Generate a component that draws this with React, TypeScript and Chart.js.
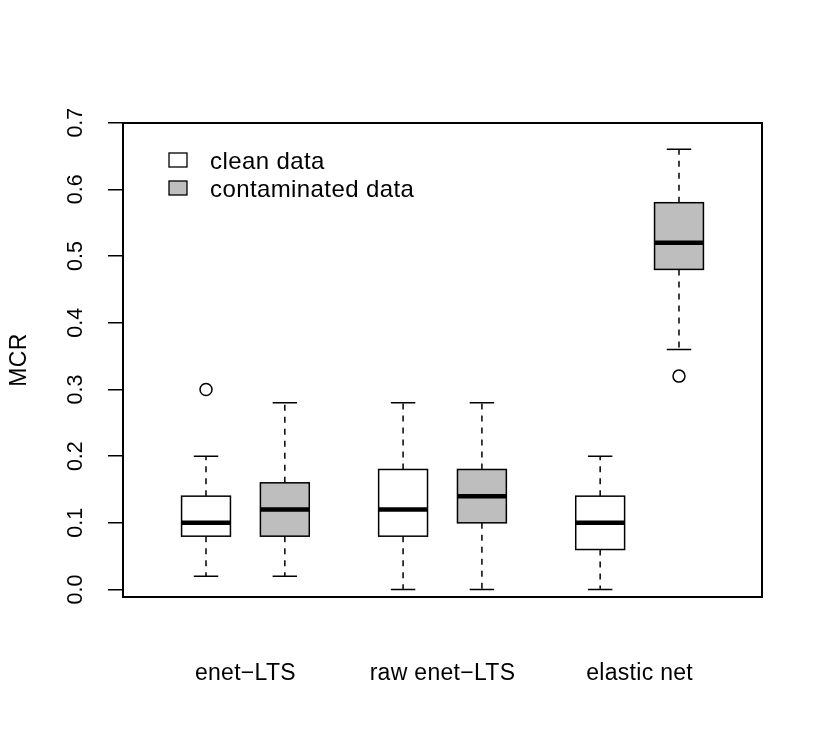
import React, { useEffect, useRef } from "react";
import { Chart, registerables } from "chart.js";

Chart.register(...registerables);

// Methods compared, one pair of boxes per method
const groupLabels = ["enet\u2212LTS", "raw enet\u2212LTS", "elastic net"];
// Data conditions (legend entries) and their box fills
const seriesLabels = ["clean data", "contaminated data"];
const seriesFill = ["#ffffff", "#bebebe"];

// One entry per box: x position, condition, five-number summary
const boxPositions = [1, 2, 3.5, 4.5, 6, 7];
const boxSeries = [0, 1, 0, 1, 0, 1];
const whiskerLow = [0.02, 0.02, 0.0, 0.0, 0.0, 0.36];
const lowerQuartile = [0.08, 0.08, 0.08, 0.1, 0.06, 0.48];
const medians = [0.1, 0.12, 0.12, 0.14, 0.1, 0.52];
const upperQuartile = [0.14, 0.16, 0.18, 0.18, 0.14, 0.58];
const whiskerHigh = [0.2, 0.28, 0.28, 0.28, 0.2, 0.66];

// Outlying points: x position and MCR value
const outlierX = [1, 7];
const outlierY = [0.3, 0.32];

const yTicks = [0, 0.1, 0.2, 0.3, 0.4, 0.5, 0.6, 0.7];
const yTitle = "MCR";

const FONT = '"Liberation Sans", Arial, Helvetica, sans-serif';
const BOX_HALF = 0.31;
const CAP_HALF = 0.155;

const boxplotPlugin = {
  id: "boxplotPlugin",
  beforeDatasetsDraw(chart: any) {
    const { ctx, scales } = chart;
    const xs = scales.x;
    const ys = scales.y;
    ctx.save();
    for (let i = 0; i < boxPositions.length; i++) {
      const p = boxPositions[i];
      const xc = xs.getPixelForValue(p);
      const xl = xs.getPixelForValue(p - BOX_HALF);
      const xr = xs.getPixelForValue(p + BOX_HALF);
      const cl = xs.getPixelForValue(p - CAP_HALF);
      const cr = xs.getPixelForValue(p + CAP_HALF);
      const yLo = ys.getPixelForValue(whiskerLow[i]);
      const yQ1 = ys.getPixelForValue(lowerQuartile[i]);
      const yMed = ys.getPixelForValue(medians[i]);
      const yQ3 = ys.getPixelForValue(upperQuartile[i]);
      const yHi = ys.getPixelForValue(whiskerHigh[i]);

      ctx.strokeStyle = "#000";
      ctx.lineWidth = 1.5;

      // dashed whiskers
      ctx.setLineDash([6, 6]);
      ctx.beginPath();
      ctx.moveTo(xc, yQ1);
      ctx.lineTo(xc, yLo);
      ctx.moveTo(xc, yQ3);
      ctx.lineTo(xc, yHi);
      ctx.stroke();
      ctx.setLineDash([]);

      // whisker caps
      ctx.beginPath();
      ctx.moveTo(cl, yLo);
      ctx.lineTo(cr, yLo);
      ctx.moveTo(cl, yHi);
      ctx.lineTo(cr, yHi);
      ctx.stroke();

      // box
      ctx.fillStyle = seriesFill[boxSeries[i]];
      ctx.fillRect(xl, yQ3, xr - xl, yQ1 - yQ3);
      ctx.strokeRect(xl, yQ3, xr - xl, yQ1 - yQ3);

      // median
      ctx.lineWidth = 4.5;
      ctx.beginPath();
      ctx.moveTo(xl, yMed);
      ctx.lineTo(xr, yMed);
      ctx.stroke();
    }
    ctx.restore();
  },
  afterDraw(chart: any) {
    const { ctx, scales, chartArea } = chart;
    const xs = scales.x;
    const ys = scales.y;
    ctx.save();

    // plot frame
    ctx.strokeStyle = "#000";
    ctx.lineWidth = 2;
    ctx.strokeRect(
      chartArea.left,
      chartArea.top,
      chartArea.right - chartArea.left,
      chartArea.bottom - chartArea.top
    );

    ctx.fillStyle = "#000";

    // rotated y tick labels
    ctx.font = `21.5px ${FONT}`;
    ctx.textAlign = "center";
    ctx.textBaseline = "middle";
    for (const t of ys.ticks) {
      const y = ys.getPixelForValue(t.value);
      ctx.save();
      ctx.translate(76, y);
      ctx.rotate(-Math.PI / 2);
      ctx.fillText(t.value.toFixed(1), 0, 0);
      ctx.restore();
    }

    // y axis title
    ctx.font = `23px ${FONT}`;
    (ctx as any).letterSpacing = "0.3px";
    ctx.save();
    ctx.translate(20, 360);
    ctx.rotate(-Math.PI / 2);
    ctx.fillText(yTitle, 0, 0);
    ctx.restore();

    // method labels under each pair of boxes
    ctx.textBaseline = "alphabetic";
    for (let g = 0; g < groupLabels.length; g++) {
      const mid = (boxPositions[2 * g] + boxPositions[2 * g + 1]) / 2;
      ctx.fillText(groupLabels[g], xs.getPixelForValue(mid), 680);
    }

    // legend
    ctx.font = `24px ${FONT}`;
    (ctx as any).letterSpacing = "0.4px";
    ctx.textAlign = "left";
    const legendX = chartArea.left + 46;
    const legendTop = chartArea.top + 30;
    for (let k = 0; k < seriesLabels.length; k++) {
      const y = legendTop + k * 28;
      ctx.fillStyle = seriesFill[k];
      ctx.fillRect(legendX, y, 18, 14);
      ctx.strokeStyle = "#000";
      ctx.lineWidth = 1.3;
      ctx.strokeRect(legendX, y, 18, 14);
      ctx.fillStyle = "#000";
      ctx.fillText(seriesLabels[k], legendX + 41, y + 16);
    }
    (ctx as any).letterSpacing = "0px";
    ctx.restore();
  },
};

export default function App() {
  const canvasRef = useRef<HTMLCanvasElement | null>(null);

  useEffect(() => {
    document.body.style.margin = "0";
    const canvas = canvasRef.current;
    if (!canvas) return;
    const chart = new Chart(canvas, {
      type: "scatter",
      data: {
        datasets: [
          {
            label: "outliers",
            data: outlierX.map((x, i) => ({ x, y: outlierY[i] })),
            pointStyle: "circle",
            pointRadius: 6,
            pointBackgroundColor: "rgba(0,0,0,0)",
            pointBorderColor: "#000",
            pointBorderWidth: 1.5,
          },
        ],
      },
      options: {
        responsive: false,
        animation: false,
        devicePixelRatio: 1,
        layout: { padding: { left: 0, top: 123, right: 63, bottom: 153 } },
        plugins: {
          legend: { display: false },
          tooltip: { enabled: false },
        },
        scales: {
          x: { type: "linear", min: -0.053, max: 8.053, display: false },
          y: {
            type: "linear",
            min: -0.0112,
            max: 0.6995,
            afterBuildTicks: (s: any) => {
              s.ticks = yTicks.map((v) => ({ value: v }));
            },
            afterFit: (s: any) => {
              s.width = 123;
            },
            ticks: { display: false },
            grid: {
              drawOnChartArea: false,
              drawTicks: true,
              tickLength: 15,
              color: "#000",
              lineWidth: 1.5,
            },
            border: { display: true, color: "#000", width: 2 },
          },
        },
      },
      plugins: [boxplotPlugin],
    });
    return () => chart.destroy();
  }, []);

  return (
    <div style={{ width: 825, height: 750, background: "#fff" }}>
      <canvas ref={canvasRef} width={825} height={750} />
    </div>
  );
}
